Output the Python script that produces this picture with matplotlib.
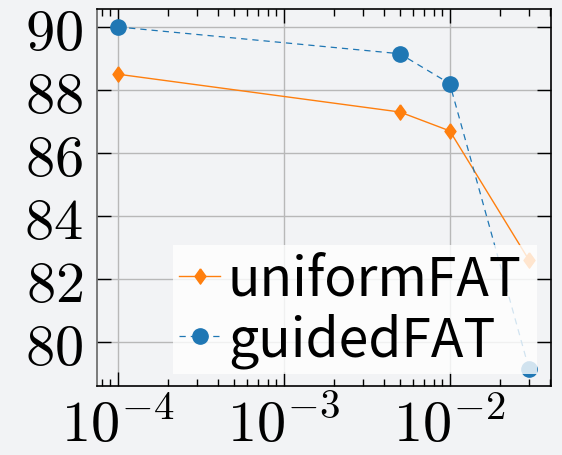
import math
import matplotlib.pyplot as plt
from matplotlib.ticker import FuncFormatter, LogLocator

# step sizes and accuracies for the two FAT variants
eps = [1e-4, 5e-3, 1e-2, 3e-2]
uniform_acc = [88.5, 87.3, 86.7, 82.6]
guided_acc = [90.0, 89.15, 88.2, 79.15]

plt.rcParams['mathtext.fontset'] = 'cm'
bg = '#f2f3f5'

# a diamond a bit wider than matplotlib's thin one
diamond = [(0, 1), (0.72, 0), (0, -1), (-0.72, 0), (0, 1)]

fig = plt.figure(figsize=(5.62, 4.56), dpi=100, facecolor=bg)
ax = fig.add_axes([97/562, 1 - 387/456, 454/562, 377/456], facecolor=bg)

ax.plot(eps, uniform_acc, '-', marker=diamond, color='#ff7f0e', lw=1,
        ms=11, label='uniformFAT')
ax.plot(eps, guided_acc, '--', marker='o', color='#1f77b4', lw=0.9,
        ms=11, dashes=(5, 4), label='guidedFAT')

ax.set_xscale('log')
ax.set_xlim(10**-4.126, 10**-1.39)
ax.set_ylim(78.6, 90.57)
ax.set_yticks([80, 82, 84, 86, 88, 90])
ax.xaxis.set_major_locator(LogLocator(base=10, numticks=10))
ax.xaxis.set_minor_locator(LogLocator(base=10, subs=range(2, 10), numticks=10))

ax.yaxis.set_major_formatter(FuncFormatter(lambda v, p: r'$%d$' % v))
ax.xaxis.set_major_formatter(FuncFormatter(lambda v, p: r'$10^{%d}$' % round(math.log10(v))))

ax.grid(True, which='major', color='#b8b8b8', lw=1)
ax.tick_params(which='both', direction='in', top=True, right=True,
               labelsize=42, width=1, color='black')
ax.tick_params(which='major', length=10)
ax.tick_params(axis='y', which='major', pad=10)
ax.tick_params(axis='x', which='major', pad=7)
ax.tick_params(which='minor', length=5)
for side in ax.spines:
    ax.spines[side].set_linewidth(1.2)
ax.spines['left'].set_color('#666666')

# legend box stretched over the right end of both curves
leg = ax.legend(loc='lower left', bbox_to_anchor=(0.167, 0.032, 0.802, 0.3),
                mode='expand', frameon=True, fancybox=False,
                framealpha=0.8, edgecolor='none', facecolor='white',
                prop={'family': 'Noto Sans CJK SC', 'size': 38.5},
                handlelength=0.76, handletextpad=0.15, borderpad=0.12,
                labelspacing=0.1, borderaxespad=0)

fig.savefig('out.png', dpi=100, facecolor=bg)
